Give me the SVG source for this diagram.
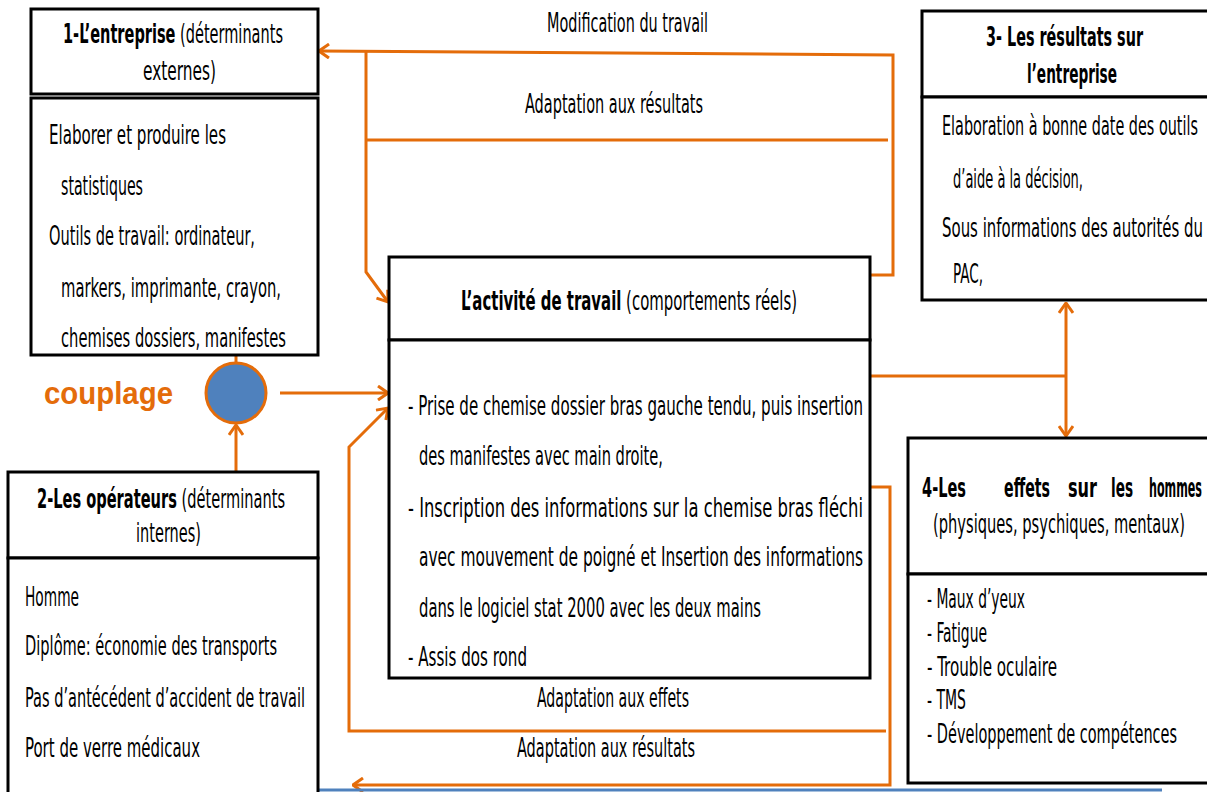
<svg xmlns="http://www.w3.org/2000/svg" width="1207" height="792" viewBox="0 0 1207 792">
<style>
.t{font-family:"Liberation Sans Narrow","DejaVu Sans Condensed","Liberation Sans",sans-serif;font-size:26px;fill:#000}
.b{font-weight:bold}
.box{fill:#fff;stroke:#000;stroke-width:3}
.c{fill:none;stroke:#E46C0A;stroke-width:3}
</style>
<defs>
<marker id="ar" viewBox="0 0 12 16" refX="11" refY="8" markerWidth="12" markerHeight="16" markerUnits="userSpaceOnUse" orient="auto">
<path d="M1,1 L11,8 L1,15" fill="none" stroke="#E46C0A" stroke-width="3"/>
</marker>
</defs>
<rect width="1207" height="792" fill="#fff"/>

<g id="connectors">
<path class="c" d="M870,275 H893 V55 L319,51" marker-end="url(#ar)"/>
<path class="c" d="M888,140 H366"/>
<path class="c" d="M366,51 V272 L388,302" marker-end="url(#ar)"/>
<path class="c" d="M280,393 H388" marker-end="url(#ar)"/>
<path class="c" d="M236,472 V425" marker-end="url(#ar)"/>
<path class="c" d="M236,355 V363"/>
<path class="c" d="M870,376 H1066"/>
<path class="c" d="M1066,376 V303" marker-end="url(#ar)"/>
<path class="c" d="M1066,376 V436" marker-end="url(#ar)"/>
<path class="c" d="M886,731 H349 V447 L388,408" marker-end="url(#ar)"/>
<path class="c" d="M870,487 H890 V785 H353" marker-end="url(#ar)"/>
<line x1="319" y1="790" x2="1162" y2="790" stroke="#4F81BD" stroke-width="3"/>
</g>

<g id="labels">
<text class="t" x="547" y="32" textLength="161" lengthAdjust="spacingAndGlyphs">Modification du travail</text>
<text class="t" x="525" y="113" textLength="178" lengthAdjust="spacingAndGlyphs">Adaptation aux résultats</text>
<text class="t" x="537" y="707" textLength="152" lengthAdjust="spacingAndGlyphs">Adaptation aux effets</text>
<text class="t" x="517" y="757" textLength="178" lengthAdjust="spacingAndGlyphs">Adaptation aux résultats</text>
</g>

<g id="entreprise">
<rect class="box" x="31" y="9" width="287" height="85"/>
<rect class="box" x="31" y="98" width="287" height="257"/>
<text class="t" x="63" y="43" textLength="220" lengthAdjust="spacingAndGlyphs"><tspan class="b">1-L’entreprise</tspan> (déterminants</text>
<text class="t" x="143" y="80" textLength="73" lengthAdjust="spacingAndGlyphs">externes)</text>
<text class="t" x="49" y="144" textLength="177" lengthAdjust="spacingAndGlyphs">Elaborer et produire les</text>
<text class="t" x="61" y="195" textLength="82" lengthAdjust="spacingAndGlyphs">statistiques</text>
<text class="t" x="49" y="245" textLength="206" lengthAdjust="spacingAndGlyphs">Outils de travail: ordinateur,</text>
<text class="t" x="61" y="297" textLength="220" lengthAdjust="spacingAndGlyphs">markers, imprimante, crayon,</text>
<text class="t" x="61" y="347" textLength="225" lengthAdjust="spacingAndGlyphs">chemises dossiers, manifestes</text>
</g>

<g id="couplage">
<circle cx="236" cy="393" r="30" fill="#4F81BD" stroke="#E46C0A" stroke-width="3"/>
<text x="44" y="404" font-family="'Liberation Sans',Arial,sans-serif" font-size="31" font-weight="bold" fill="#E46C0A" textLength="129" lengthAdjust="spacingAndGlyphs">couplage</text>
</g>

<g id="operateurs">
<rect class="box" x="8" y="472" width="310" height="86"/>
<rect class="box" x="8" y="558" width="310" height="260"/>
<text class="t" x="37" y="508" textLength="248" lengthAdjust="spacingAndGlyphs"><tspan class="b">2-Les opérateurs</tspan> (déterminants</text>
<text class="t" x="136" y="542" textLength="65" lengthAdjust="spacingAndGlyphs">internes)</text>
<text class="t" x="25" y="606" textLength="54" lengthAdjust="spacingAndGlyphs">Homme</text>
<text class="t" x="25" y="655" textLength="252" lengthAdjust="spacingAndGlyphs">Diplôme: économie des transports</text>
<text class="t" x="25" y="707" textLength="280" lengthAdjust="spacingAndGlyphs">Pas d’antécédent d’accident de travail</text>
<text class="t" x="25" y="757" textLength="175" lengthAdjust="spacingAndGlyphs">Port de verre médicaux</text>
</g>

<g id="activite">
<rect class="box" x="389" y="257" width="481" height="83"/>
<rect class="box" x="389" y="340" width="481" height="338"/>
<text class="t" x="461" y="310" textLength="336" lengthAdjust="spacingAndGlyphs"><tspan class="b">L’activité de travail</tspan> (comportements réels)</text>
<text class="t" x="408" y="415" textLength="455" lengthAdjust="spacingAndGlyphs">- Prise de chemise dossier bras gauche tendu, puis insertion</text>
<text class="t" x="419" y="465" textLength="244" lengthAdjust="spacingAndGlyphs">des manifestes avec main droite,</text>
<text class="t" x="408" y="517" textLength="455" lengthAdjust="spacingAndGlyphs">- Inscription des informations sur la chemise bras fléchi</text>
<text class="t" x="419" y="566" textLength="444" lengthAdjust="spacingAndGlyphs">avec mouvement de poigné et Insertion des informations</text>
<text class="t" x="419" y="617" textLength="342" lengthAdjust="spacingAndGlyphs">dans le logiciel stat 2000 avec les deux mains</text>
<text class="t" x="408" y="666" textLength="119" lengthAdjust="spacingAndGlyphs">- Assis dos rond</text>
</g>

<g id="resultats">
<rect class="box" x="922" y="11" width="300" height="86"/>
<rect class="box" x="922" y="97" width="300" height="203"/>
<text class="t b" x="986" y="46" textLength="157" lengthAdjust="spacingAndGlyphs">3- Les résultats sur</text>
<text class="t b" x="1027" y="83" textLength="90" lengthAdjust="spacingAndGlyphs">l’entreprise</text>
<text class="t" x="942" y="135" textLength="256" lengthAdjust="spacingAndGlyphs">Elaboration à bonne date des outils</text>
<text class="t" x="953" y="188" textLength="130" lengthAdjust="spacingAndGlyphs">d’aide à la décision,</text>
<text class="t" x="942" y="237" textLength="261" lengthAdjust="spacingAndGlyphs">Sous informations des autorités du</text>
<text class="t" x="953" y="283" textLength="30" lengthAdjust="spacingAndGlyphs">PAC,</text>
</g>

<g id="effets">
<rect class="box" x="908" y="438" width="310" height="136"/>
<rect class="box" x="908" y="574" width="310" height="209"/>
<text class="t b" x="922" y="497" textLength="44" lengthAdjust="spacingAndGlyphs">4-Les</text>
<text class="t b" x="1004" y="497" textLength="46" lengthAdjust="spacingAndGlyphs">effets</text>
<text class="t b" x="1068" y="497" textLength="29" lengthAdjust="spacingAndGlyphs">sur</text>
<text class="t b" x="1111" y="497" textLength="22" lengthAdjust="spacingAndGlyphs">les</text>
<text class="t b" x="1149" y="497" textLength="53" lengthAdjust="spacingAndGlyphs">hommes</text>
<text class="t" x="933" y="533" textLength="252" lengthAdjust="spacingAndGlyphs">(physiques, psychiques, mentaux)</text>
<text class="t" x="927" y="608" textLength="98" lengthAdjust="spacingAndGlyphs">- Maux d’yeux</text>
<text class="t" x="927" y="642" textLength="60" lengthAdjust="spacingAndGlyphs">- Fatigue</text>
<text class="t" x="927" y="676" textLength="130" lengthAdjust="spacingAndGlyphs">- Trouble oculaire</text>
<text class="t" x="927" y="709" textLength="39" lengthAdjust="spacingAndGlyphs">- TMS</text>
<text class="t" x="927" y="743" textLength="250" lengthAdjust="spacingAndGlyphs">- Développement de compétences</text>
</g>
</svg>
